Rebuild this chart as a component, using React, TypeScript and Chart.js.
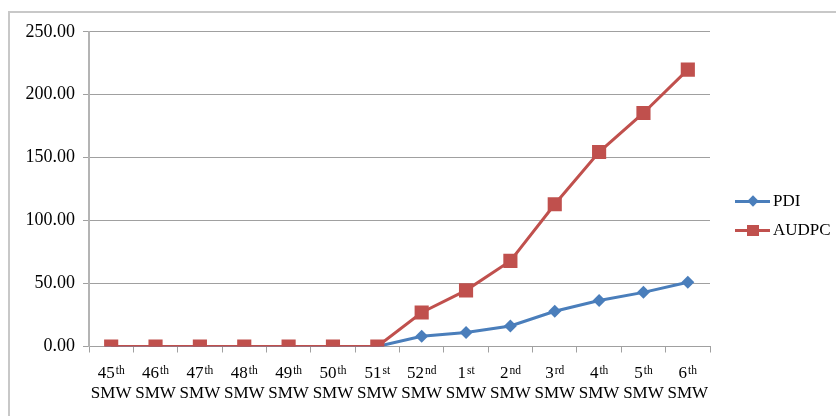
import React, { useEffect, useRef } from "react";
import { Chart, registerables } from "chart.js";

Chart.register(...registerables);

const weekNumbers = ["45", "46", "47", "48", "49", "50", "51", "52", "1", "2", "3", "4", "5", "6"];
const weekSuffixes = ["th", "th", "th", "th", "th", "th", "st", "nd", "st", "nd", "rd", "th", "th", "th"];
const weekUnit = "SMW";
const categories = weekNumbers.map((n, i) => n + weekSuffixes[i] + " " + weekUnit);

const pdiValues = [0, 0, 0, 0, 0, 0, 0, 8.2, 11.2, 16.3, 28.0, 36.6, 43.0, 51.0];
const audpcValues = [0, 0, 0, 0, 0, 0, 0, 27.0, 44.6, 68.0, 113.0, 154.5, 185.5, 220.0];

const yTicks = [0, 50, 100, 150, 200, 250];

const seriesNames = ["PDI", "AUDPC"];
const BLUE = "#4a7ebb";
const RED = "#c0504d";
const SERIF = '"Liberation Serif", "Times New Roman", serif';

const xLabelPlugin = {
  id: "xLabelPlugin",
  afterDraw(chart: any) {
    const xs = chart.scales.x;
    const ctx = chart.ctx;
    const base = chart.chartArea.bottom;
    ctx.save();
    ctx.fillStyle = "#000";
    ctx.textBaseline = "alphabetic";
    for (let i = 0; i < weekNumbers.length; i++) {
      const cx = xs.getPixelForValue(i);
      ctx.font = "17px " + SERIF;
      const wn = ctx.measureText(weekNumbers[i]).width;
      ctx.font = "11.5px " + SERIF;
      const ws = ctx.measureText(weekSuffixes[i]).width;
      const start = cx - (wn + 1 + ws) / 2;
      ctx.textAlign = "left";
      ctx.font = "17px " + SERIF;
      ctx.fillText(weekNumbers[i], start, base + 31);
      ctx.font = "11.5px " + SERIF;
      ctx.fillText(weekSuffixes[i], start + wn + 1, base + 27);
      ctx.font = "17px " + SERIF;
      ctx.textAlign = "center";
      ctx.fillText(weekUnit, cx, base + 51);
    }
    ctx.restore();
  },
};

export default function App() {
  const ref = useRef<HTMLCanvasElement | null>(null);

  useEffect(() => {
    if (!ref.current) return;
    const chart = new Chart(ref.current, {
      type: "line",
      data: {
        labels: categories,
        datasets: [
          {
            label: seriesNames[0],
            data: pdiValues,
            borderColor: BLUE,
            backgroundColor: BLUE,
            borderWidth: 3,
            pointStyle: "rectRot",
            pointRadius: 6.5,
            pointBorderWidth: 0,
            order: 1,
          },
          {
            label: seriesNames[1],
            data: audpcValues,
            borderColor: RED,
            backgroundColor: RED,
            borderWidth: 3,
            pointStyle: "rect",
            pointRadius: 10,
            pointBorderWidth: 0,
            order: 0,
          },
        ],
      },
      options: {
        animation: false,
        responsive: false,
        devicePixelRatio: 1,
        layout: { padding: { top: 16, right: 126, left: 0, bottom: 0 } },
        plugins: {
          legend: { display: false },
          tooltip: { enabled: false },
        },
        scales: {
          x: {
            type: "category",
            offset: true,
            grid: {
              offset: true,
              drawOnChartArea: false,
              drawTicks: true,
              tickLength: 6,
              color: "#a0a0a0",
            },
            border: { color: "#a0a0a0", width: 1 },
            ticks: { display: false },
            afterFit(scale: any) {
              scale.height = 61.5;
            },
          },
          y: {
            min: 0,
            max: 250,
            afterBuildTicks(scale: any) {
              scale.ticks = yTicks.map((v) => ({ value: v }));
            },
            grid: {
              color: "#a0a0a0",
              tickLength: 6,
              lineWidth: 1,
            },
            border: { color: "#b4b4b4", width: 2 },
            ticks: {
              color: "#000",
              padding: 8,
              font: { family: SERIF, size: 18 },
              callback: (v: any) => Number(v).toFixed(2),
            },
            afterFit(scale: any) {
              scale.width = 79;
            },
          },
        },
      },
      plugins: [xLabelPlugin],
    });
    return () => chart.destroy();
  }, []);

  const legendRow = (name: string, color: string, marker: "diamond" | "square", top: number) => (
    <div style={{ position: "absolute", left: 725, top, height: 20, display: "flex", alignItems: "center", whiteSpace: "nowrap" }}>
      <div style={{ position: "relative", width: 35, height: 20, flex: "none" }}>
        <div style={{ position: "absolute", left: 0, top: 8.5, width: 35, height: 3, background: color }} />
        {marker === "diamond" ? (
          <div
            style={{
              position: "absolute",
              left: 13.5,
              top: 6,
              width: 8,
              height: 8,
              background: color,
              transform: "rotate(45deg)",
            }}
          />
        ) : (
          <div style={{ position: "absolute", left: 12, top: 4.5, width: 12, height: 11, background: color }} />
        )}
      </div>
      <span style={{ marginLeft: 3, fontFamily: SERIF, fontSize: 17, color: "#000", lineHeight: "20px" }}>{name}</span>
    </div>
  );

  return (
    <>
      <style>{"html,body{margin:0;padding:0;overflow:hidden}"}</style>
      <div
        style={{
          position: "relative",
          boxSizing: "border-box",
          marginLeft: 8,
          marginTop: 11,
          width: 828,
          height: 405,
          overflow: "hidden",
          borderTop: "2px solid #c8c8c8",
          borderLeft: "2px solid #c8c8c8",
        }}
      >
        <canvas ref={ref} width={826} height={395} style={{ display: "block" }} />
        {legendRow(seriesNames[0], BLUE, "diamond", 178)}
        {legendRow(seriesNames[1], RED, "square", 207)}
      </div>
    </>
  );
}
